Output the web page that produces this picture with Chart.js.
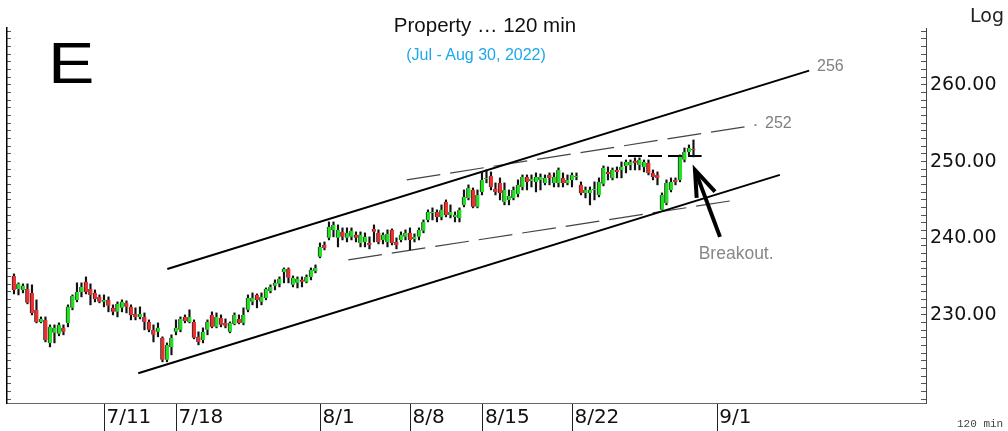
<!DOCTYPE html>
<html>
<head>
<meta charset="utf-8">
<script src="https://cdn.jsdelivr.net/npm/chart.js@4"></script>
<style>
html, body { margin: 0; padding: 0; background: #fff; }
#wrap { position: relative; width: 1008px; height: 431px; overflow: hidden; }
#c { position: absolute; left: 0; top: 0; }
.t { position: absolute; white-space: nowrap; line-height: 1; font-family: 'Liberation Sans', Arial, sans-serif; }
</style>
</head>
<body>
<div id="wrap">
  <canvas id="c" width="1008" height="431"></canvas>
  <div class="t" style="left:485px;top:14.7px;font-size:20.5px;color:#111;transform:translateX(-50%)">Property … 120 min</div>
  <div class="t" style="left:476px;top:46.5px;font-size:16px;color:#1ea7ea;transform:translateX(-50%)">(Jul - Aug 30, 2022)</div>
  <div class="t" style="left:47.5px;top:34.4px;font-size:58px;color:#000;transform:scaleX(1.2);transform-origin:left top">E</div>
  <div class="t" style="left:970px;top:5.6px;font-size:19px;color:#222;font-family:'DejaVu Sans'">Log</div>
  <div class="t" style="left:957px;top:418.6px;font-size:11px;color:#444;font-family:'Liberation Mono',monospace">120 min</div>
  <div class="t" style="left:817px;top:58.2px;font-size:16px;color:#7f7f7f">256</div>
  <div class="t" style="left:765px;top:114.8px;font-size:16px;color:#7f7f7f">252</div>
  <div class="t" style="left:698.7px;top:244.5px;font-size:17.5px;color:#888">Breakout.</div>
</div>
<script>
// 120 min bars, one per index
const opens = [
  235.10, 233.40, 233.27, 233.40, 232.88, 230.67, 229.10, 229.36, 226.36, 227.67,
  227.54, 228.32, 228.97, 230.93, 231.97, 233.01, 234.32, 233.40, 232.88, 232.36,
  231.71, 231.97, 230.93, 230.41, 230.93, 231.58, 231.06, 230.14, 229.75, 229.75,
  229.10, 228.06, 227.80, 227.02, 224.15, 225.84, 227.80, 228.06, 229.75, 229.10,
  229.10, 227.15, 226.75, 228.06, 230.01, 228.45, 229.62, 228.97, 227.80, 228.84,
  229.49, 228.97, 230.67, 231.71, 232.62, 231.71, 232.23, 233.14, 233.80, 234.06,
  235.62, 236.01, 233.93, 234.19, 234.58, 234.32, 234.97, 235.75, 237.58, 239.14,
  240.06, 241.10, 240.06, 240.84, 240.06, 240.19, 240.45, 239.40, 239.53, 239.40,
  241.23, 240.71, 239.79, 239.53, 241.10, 239.53, 239.79, 240.19, 240.71, 239.92,
  240.19, 240.97, 242.40, 243.31, 243.44, 242.79, 244.75, 243.05, 242.79, 242.66,
  244.36, 245.27, 246.31, 244.10, 246.05, 247.75, 248.14, 246.44, 247.23, 244.75,
  245.01, 245.27, 245.79, 246.70, 248.01, 247.49, 247.36, 247.62, 247.23, 248.27,
  247.23, 247.23, 247.88, 247.23, 247.62, 248.01, 246.97, 245.92, 245.92, 246.31,
  245.66, 247.10, 248.66, 247.88, 248.92, 248.92, 249.44, 249.57, 250.10, 249.57,
  249.31, 249.83, 248.53, 248.27, 243.71, 244.62, 246.31, 247.62, 247.62, 250.23,
  251.27, 251.66
];
const highs = [
  235.36, 234.19, 234.06, 234.06, 233.93, 231.97, 229.75, 229.75, 228.71, 228.71,
  228.97, 228.71, 231.32, 232.62, 234.19, 234.19, 234.97, 234.06, 233.27, 232.62,
  232.62, 232.36, 231.32, 231.71, 231.97, 231.84, 231.32, 230.93, 231.06, 230.27,
  229.36, 228.71, 228.97, 227.15, 226.36, 227.41, 229.36, 229.75, 230.01, 230.67,
  229.36, 227.80, 228.32, 229.36, 230.41, 230.27, 230.01, 229.49, 229.10, 230.27,
  230.01, 230.93, 232.62, 232.88, 232.75, 232.88, 233.53, 233.93, 234.58, 234.97,
  236.14, 236.14, 235.10, 234.97, 234.97, 235.23, 236.14, 236.53, 239.40, 239.53,
  242.14, 242.14, 241.75, 241.36, 241.36, 241.36, 240.84, 240.84, 240.71, 240.19,
  241.75, 241.10, 240.71, 241.10, 241.23, 240.06, 240.84, 241.10, 241.36, 240.58,
  241.36, 242.40, 243.71, 243.97, 243.71, 244.36, 245.01, 244.36, 243.44, 243.97,
  246.31, 246.97, 246.57, 246.31, 248.66, 248.92, 248.66, 247.23, 247.88, 247.23,
  246.31, 246.70, 247.62, 248.27, 248.27, 248.27, 248.53, 248.40, 248.27, 248.53,
  248.53, 249.18, 248.53, 248.27, 248.53, 248.53, 247.36, 246.70, 246.70, 247.36,
  247.88, 249.44, 249.31, 249.18, 249.31, 249.96, 250.22, 250.22, 250.49, 250.49,
  250.22, 250.22, 248.92, 248.66, 245.92, 247.62, 247.88, 247.88, 250.88, 251.79,
  252.18, 252.83
];
const lows = [
  232.75, 232.62, 232.88, 231.45, 230.01, 228.97, 228.97, 226.49, 225.84, 226.36,
  227.28, 227.41, 228.45, 230.67, 231.71, 232.36, 232.75, 231.32, 231.71, 231.58,
  231.06, 230.41, 230.01, 229.75, 230.41, 230.27, 229.36, 229.36, 229.49, 228.06,
  227.80, 226.49, 227.15, 223.89, 223.89, 224.80, 227.41, 227.80, 228.97, 228.97,
  226.89, 226.10, 226.36, 227.41, 228.32, 228.32, 228.45, 228.32, 227.67, 228.71,
  228.84, 228.71, 230.41, 231.32, 230.93, 231.32, 231.97, 232.88, 233.27, 233.66,
  234.19, 234.19, 233.66, 233.53, 233.66, 234.19, 234.58, 235.49, 237.45, 238.49,
  239.79, 240.19, 238.88, 239.79, 239.53, 239.79, 239.53, 238.88, 238.88, 238.62,
  239.53, 239.27, 239.27, 238.88, 239.14, 238.62, 239.53, 239.79, 238.49, 239.53,
  239.79, 240.71, 242.14, 242.40, 242.14, 242.40, 242.79, 242.66, 242.14, 242.14,
  244.10, 245.01, 243.97, 243.97, 245.66, 247.23, 246.31, 245.66, 245.01, 244.36,
  244.36, 245.01, 245.40, 246.31, 246.31, 246.70, 246.05, 246.31, 246.97, 246.97,
  246.70, 246.70, 246.70, 246.97, 246.70, 247.62, 245.66, 245.27, 244.36, 245.01,
  245.40, 246.84, 247.62, 247.62, 247.88, 247.88, 248.53, 248.92, 248.92, 248.92,
  248.66, 248.27, 247.62, 246.97, 243.71, 244.36, 246.05, 246.97, 247.36, 249.96,
  250.88, 250.62
];
const closes = [
  233.27, 234.06, 233.80, 231.58, 230.27, 229.10, 229.49, 226.75, 228.45, 228.32,
  228.71, 227.80, 231.06, 232.49, 233.01, 233.66, 233.01, 232.62, 232.10, 231.71,
  231.97, 231.19, 230.41, 231.45, 231.71, 231.06, 230.01, 229.75, 230.14, 229.10,
  228.06, 227.41, 228.32, 224.15, 226.10, 227.02, 228.32, 229.49, 229.23, 229.75,
  227.02, 226.49, 227.80, 229.10, 228.45, 229.75, 228.71, 228.58, 228.97, 230.01,
  228.97, 230.01, 232.23, 232.23, 231.97, 232.36, 233.40, 233.66, 234.19, 234.71,
  236.01, 234.84, 234.84, 234.71, 234.32, 234.97, 235.88, 236.14, 238.88, 238.75,
  241.49, 241.75, 241.10, 240.19, 240.71, 240.97, 240.06, 240.45, 240.19, 239.14,
  240.84, 239.53, 240.45, 240.58, 239.40, 239.14, 240.45, 240.71, 239.79, 240.19,
  241.10, 242.14, 243.44, 243.44, 242.79, 243.71, 243.05, 243.44, 243.05, 243.71,
  245.40, 246.57, 244.10, 245.66, 247.62, 247.88, 246.70, 246.05, 245.92, 246.31,
  245.53, 246.31, 246.97, 248.01, 247.36, 247.75, 248.01, 248.01, 247.88, 247.88,
  248.01, 248.92, 247.23, 247.62, 248.27, 248.14, 245.92, 246.31, 246.31, 246.44,
  247.36, 249.18, 248.40, 248.92, 248.66, 249.31, 249.96, 249.96, 249.83, 250.23,
  249.96, 248.53, 248.01, 247.88, 245.66, 247.23, 247.36, 247.36, 250.62, 251.27,
  251.79, 251.53
];

// session separators on the time axis (bar index) and their labels
const dateIdx = [20.1, 36.1, 68.1, 88.1, 104.2, 124.1, 156.3];
const dateLabels = ['7/11', '7/18', '8/1', '8/8', '8/15', '8/22', '9/1'];

// price axis
const priceMin = 218.52;
const priceMax = 267.43;
const priceLabels = [230, 240, 250, 260];

// drawn trend lines (bar index, price)
const upperChannel = [{ x: 34.07, y: 235.99 }, { x: 176.7, y: 261.87 }];
const lowerChannel = [{ x: 27.62, y: 222.41 }, { x: 170.2, y: 248.27 }];
const upperDashed = [{ x: 87.27, y: 247.62 }, { x: 165.0, y: 254.79 }];
const lowerDashed = [{ x: 74.29, y: 237.19 }, { x: 160.67, y: 245.01 }];
const breakoutLevel = [{ x: 132.0, y: 250.75 }, { x: 152.8, y: 250.75 }];
const arrowShaft = [{ x: 156.89, y: 240.19 }, { x: 151.33, y: 248.92 }];
const arrowHead = [{ x: 151.71, y: 245.27 }, { x: 151.33, y: 248.92 }, { x: 155.78, y: 246.09 }];

const UP = '#22e022';
const DOWN = '#ee2f2f';

const wickData = opens.map((o, i) => ({ x: i, y: [lows[i], highs[i]] }));
const bodyData = opens.map((o, i) => ({ x: i, y: [Math.min(o, closes[i]), Math.max(o, closes[i])] }));
const bodyColors = opens.map((o, i) => closes[i] >= o ? UP : DOWN);

const minorTicks = [];
for (let v = Math.ceil(priceMin); v <= Math.floor(priceMax); v++) minorTicks.push({ value: v });

const lineSet = (data, color, width, dash, order) => ({
    type: 'line',
    data: data,
    borderColor: color,
    borderWidth: width,
    borderDash: dash,
    pointRadius: 0,
    fill: false,
    tension: 0,
    order: order
});

new Chart(document.getElementById('c'), {
    type: 'bar',
    data: {
        datasets: [
            {
                data: bodyData,
                backgroundColor: bodyColors,
                borderColor: '#222',
                borderWidth: { left: 1, right: 0, top: 0, bottom: 0 },
                borderSkipped: false,
                barThickness: 4,
                minBarLength: 1,
                grouped: false,
                order: 1
            },
            {
                data: wickData,
                backgroundColor: '#111',
                barThickness: 1.5,
                grouped: false,
                order: 2
            },
            lineSet(upperChannel, '#000', 2, [], 3),
            lineSet(lowerChannel, '#000', 2, [], 3),
            lineSet(upperDashed, '#444', 1.2, [34, 10], 3),
            lineSet(lowerDashed, '#444', 1.2, [34, 10], 3),
            lineSet(breakoutLevel, '#000', 2, [14, 6], 3),
            lineSet(arrowShaft, '#000', 4, [], 0),
            lineSet(arrowHead, '#000', 4, [], 0)
        ]
    },
    options: {
        responsive: false,
        animation: false,
        devicePixelRatio: 1,
        layout: { padding: { top: 28, left: 0, right: 0, bottom: 0 } },
        plugins: {
            legend: { display: false },
            tooltip: { enabled: false }
        },
        scales: {
            x: {
                type: 'linear',
                min: -1.55,
                max: 202.67,
                offset: false,
                afterBuildTicks: (scale) => {
                    scale.ticks = dateIdx.map(v => ({ value: v }));
                },
                afterFit: (scale) => { scale.height = 28; },
                grid: {
                    offset: false,
                    drawOnChartArea: false,
                    drawTicks: true,
                    tickLength: 28,
                    tickColor: '#222',
                    tickWidth: 1
                },
                border: { display: true, color: '#666', width: 1 },
                ticks: {
                    autoSkip: false,
                    maxRotation: 0,
                    align: 'start',
                    labelOffset: 2,
                    padding: -23,
                    color: '#111',
                    font: { family: 'DejaVu Sans', size: 20, lineHeight: 1 },
                    callback: (value, index) => dateLabels[index]
                }
            },
            y: {
                type: 'linear',
                position: 'right',
                min: priceMin,
                max: priceMax,
                afterBuildTicks: (scale) => {
                    scale.ticks = minorTicks.map(t => ({ value: t.value }));
                },
                afterFit: (scale) => { scale.width = 82; },
                grid: {
                    drawOnChartArea: false,
                    tickLength: -5,
                    tickColor: '#555',
                    tickWidth: 1
                },
                border: { display: true, color: '#444', width: 1 },
                ticks: {
                    autoSkip: false,
                    padding: 9,
                    color: '#111',
                    font: { family: 'DejaVu Sans', size: 19 },
                    callback: (value) => priceLabels.includes(value) ? value.toFixed(2) : ''
                }
            },
            yl: {
                type: 'linear',
                position: 'left',
                min: priceMin,
                max: priceMax,
                afterBuildTicks: (scale) => {
                    scale.ticks = minorTicks.map(t => ({ value: t.value }));
                },
                afterFit: (scale) => { scale.width = 7; },
                grid: {
                    drawOnChartArea: false,
                    tickLength: -4,
                    tickColor: '#555',
                    tickWidth: 1
                },
                border: { display: true, color: '#000', width: 1.5 },
                ticks: { display: false }
            }
        }
    }
});
</script>
</body>
</html>
